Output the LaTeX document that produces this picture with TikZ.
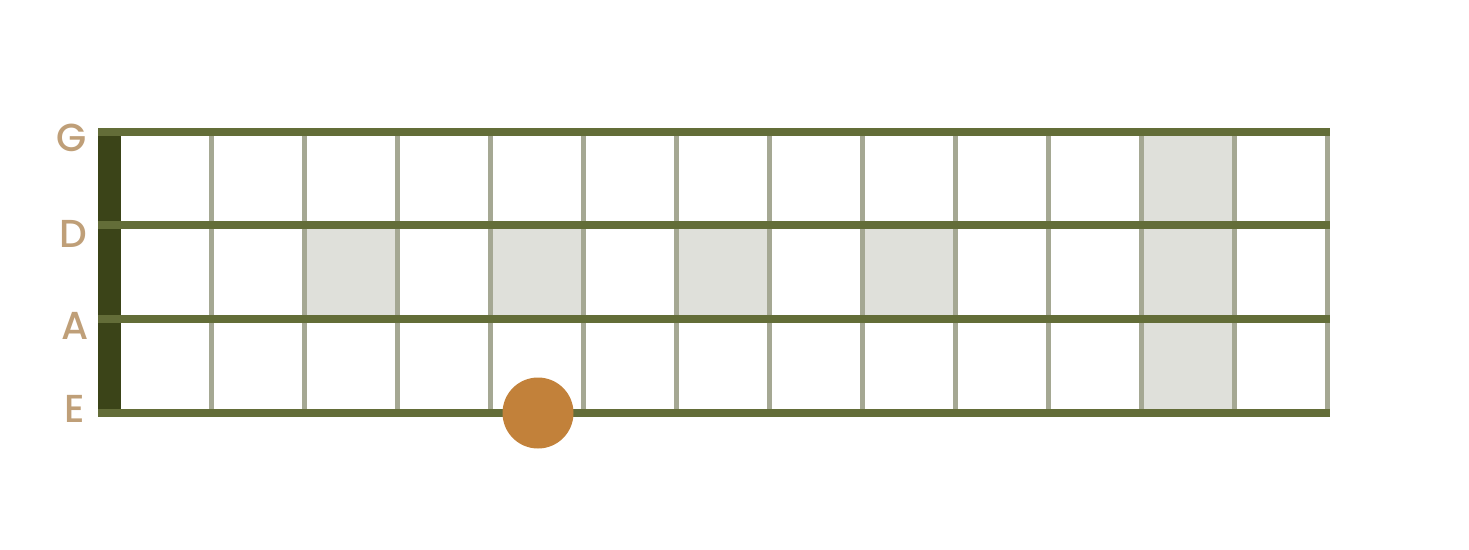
\documentclass[tikz,border=0pt]{standalone}
\usepackage{fontspec}
\setmainfont{Poppins}
\newfontfamily\namefont{Poppins}[UprightFont=* Medium]
\usepackage{tikz}
\usetikzlibrary{positioning}
\definecolor{stringcol}{HTML}{636D38}
\definecolor{fretcol}{HTML}{A5A893}
\definecolor{nutcol}{HTML}{3B4418}
\definecolor{shadecol}{HTML}{DFE0DA}
\definecolor{namecol}{HTML}{BF9F78}
\definecolor{notecol}{HTML}{C2813A}

\begin{document}
\begin{tikzpicture}[x=1pt, y=-1pt,
    stringline/.style={draw=stringcol, line width=8pt},
    fretline/.style={draw=fretcol, line width=4.7pt},
    nutbar/.style={fill=nutcol},
    shadecell/.style={fill=shadecol},
    stringname/.style={text=namecol, inner sep=0pt, font=\namefont\fontsize{39}{39}\selectfont},
    rootnote/.style={circle, fill=notecol, minimum size=71pt, inner sep=0pt}]
    \useasboundingbox (0,0) rectangle (1469,549);

    \foreach \c in {2,4,6,8,11}
        \fill[shadecell] (118.7+93*\c,225) rectangle (211.7+93*\c,319);
    \fill[shadecell] (1141.7,132) rectangle (1234.7,413);

    \fill[nutbar] (98,132) rectangle (121,413);
    \foreach \i in {0,...,12}
        \draw[fretline] (211.7+93*\i,132) -- (211.7+93*\i,413);

    \foreach \s/\y in {G/132,D/225,A/319,E/413} {
        \coordinate (\s0) at (98,\y);
        \coordinate (\s1) at (1330,\y);
        \draw[stringline] (\s0) -- (\s1);
    }

    \node[stringname] (nameG) at (72,138) {G};
    \node[stringname] (nameD) at (73,234) {D};
    \node[stringname] (nameA) at (75,326) {A};
    \node[stringname] (nameE) at (75,409) {E};

    \node[rootnote] (root) at (538,413) {};
\end{tikzpicture}
\end{document}
